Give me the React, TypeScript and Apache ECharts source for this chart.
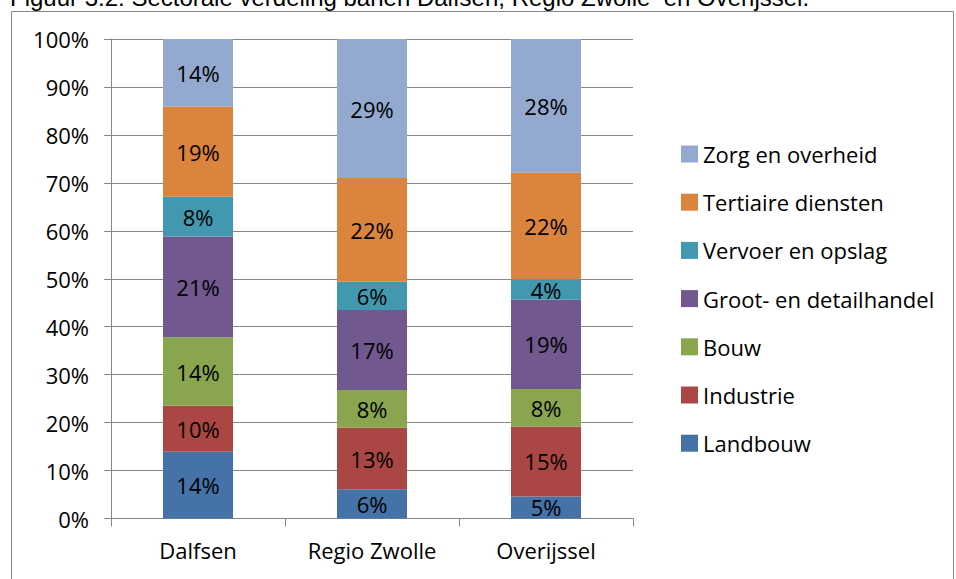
import React, { useEffect, useRef } from "react";
import * as echarts from "echarts";

const categories = ["Dalfsen", "Regio Zwolle", "Overijssel"];
const sectors = [
  "Landbouw",
  "Industrie",
  "Bouw",
  "Groot- en detailhandel",
  "Vervoer en opslag",
  "Tertiaire diensten",
  "Zorg en overheid",
];
const landbouw = [13.9, 6.1, 4.6];
const industrie = [9.6, 12.8, 14.6];
const bouw = [14.3, 7.9, 7.8];
const grootDetail = [21.0, 16.7, 18.6];
const vervoer = [8.3, 5.9, 4.3];
const tertiair = [18.8, 21.6, 22.2];
const zorg = [14.1, 29.0, 27.9];
const seriesValues = [landbouw, industrie, bouw, grootDetail, vervoer, tertiair, zorg];
const colors = ["#4572A7", "#AA4643", "#89A54E", "#71588F", "#4198AF", "#DB843D", "#93A9CF"];
const yTicks = [0, 10, 20, 30, 40, 50, 60, 70, 80, 90, 100];
const title = "Figuur 3.2: Sectorale verdeling banen Dalfsen, Regio Zwolle  en Overijssel.";

const FONT = "'Open Sans', sans-serif";

export default function App() {
  const ref = useRef<HTMLDivElement>(null);
  useEffect(() => {
    if (!ref.current) return;
    const chart = echarts.init(ref.current, null, { renderer: "svg" });
    chart.setOption({
      animation: false,
      backgroundColor: "#ffffff",
      textStyle: { fontFamily: FONT },
      grid: { left: 111, top: 39, width: 522, height: 479.5, containLabel: false },
      legend: {
        orient: "vertical",
        left: 676,
        top: 138,
        itemWidth: 17,
        itemHeight: 17,
        itemGap: 26.2,
        icon: "rect",
        data: sectors.slice().reverse(),
        textStyle: { fontFamily: FONT, fontSize: 22, color: "#000" },
      },
      xAxis: {
        type: "category",
        data: categories,
        axisLine: { lineStyle: { color: "#868686", width: 1 } },
        axisTick: { show: true, length: 8, lineStyle: { color: "#868686" } },
        axisLabel: { color: "#000", fontSize: 22, fontFamily: FONT, margin: 20 },
      },
      yAxis: {
        type: "value",
        min: 0,
        max: 100,
        interval: 10,
        axisLine: { show: true, lineStyle: { color: "#868686", width: 1 } },
        axisTick: { show: true, length: 7, lineStyle: { color: "#868686" } },
        axisLabel: {
          color: "#000",
          fontSize: 22,
          fontFamily: FONT,
          margin: 22,
          formatter: (v: number) => (yTicks.includes(v) ? v + "%" : ""),
        },
        splitLine: { show: true, lineStyle: { color: "#868686", width: 1 } },
      },
      series: sectors.map((name, i) => ({
        name,
        type: "bar",
        stack: "total",
        barWidth: 70,
        data: seriesValues[i],
        itemStyle: { color: colors[i] },
        label: {
          show: true,
          position: "inside",
          color: "#000",
          fontSize: 22,
          fontFamily: FONT,
          formatter: (p: any) => Math.round(p.value) + "%",
        },
      })),
      graphic: [
        {
          type: "rect",
          shape: { x: 11.5, y: 11.5, width: 942, height: 620 },
          style: { fill: "none", stroke: "#868686", lineWidth: 1 },
          silent: true,
        },
        {
          type: "text",
          left: 10,
          top: -14.4,
          style: {
            text: title,
            font: "24px 'Liberation Sans', Arial, sans-serif",
            fill: "#000",
          },
          silent: true,
        },
      ],
    });
    return () => chart.dispose();
  }, []);
  return (
    <div
      ref={ref}
      style={{ position: "absolute", left: 0, top: 0, width: 956, height: 579 }}
    />
  );
}
